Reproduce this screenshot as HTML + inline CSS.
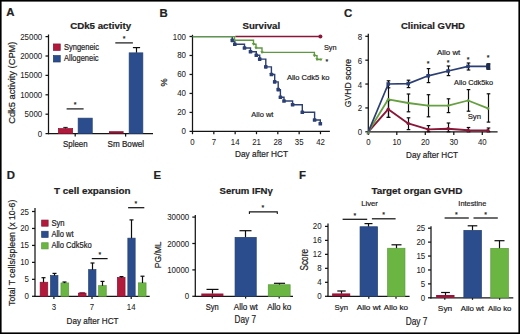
<!DOCTYPE html>
<html><head><meta charset="utf-8">
<style>
html,body{margin:0;padding:0;background:#fff;}
body{width:520px;height:334px;overflow:hidden;}
svg{display:block;font-family:"Liberation Sans",sans-serif;}
text{stroke:#222;stroke-width:0.2px;}
</style></head>
<body>
<svg width="520" height="334" viewBox="0 0 520 334">
<rect x="0" y="0" width="520" height="334" fill="#fff"/>
<text x="6.2" y="16.4" font-size="11.4" text-anchor="start" font-weight="bold" fill="#222222">A</text>
<text x="159.4" y="16.9" font-size="11.4" text-anchor="start" font-weight="bold" fill="#222222">B</text>
<text x="344.1" y="16.8" font-size="11.4" text-anchor="start" font-weight="bold" fill="#222222">C</text>
<text x="6.8" y="179.2" font-size="11.4" text-anchor="start" font-weight="bold" fill="#222222">D</text>
<text x="153.5" y="179.0" font-size="11.4" text-anchor="start" font-weight="bold" fill="#222222">E</text>
<text x="299.1" y="178.8" font-size="11.4" text-anchor="start" font-weight="bold" fill="#222222">F</text>
<text x="100.7" y="28.5" font-size="9.9" text-anchor="middle" font-weight="bold" textLength="61" lengthAdjust="spacingAndGlyphs" fill="#222222">CDk5 activity</text>
<line x1="48.5" y1="34.5" x2="48.5" y2="134.2" stroke="#141414" stroke-width="1.25"/>
<line x1="47.9" y1="133.6" x2="153" y2="133.6" stroke="#141414" stroke-width="1.25"/>
<line x1="45.5" y1="133.6" x2="48.5" y2="133.6" stroke="#141414" stroke-width="1.25"/>
<text x="42.2" y="136.6" font-size="8.3" text-anchor="end" style="stroke-width:0.05px" textLength="4.4" lengthAdjust="spacingAndGlyphs" fill="#222222">0</text>
<line x1="45.5" y1="114.2" x2="48.5" y2="114.2" stroke="#141414" stroke-width="1.25"/>
<text x="42.2" y="117.2" font-size="8.3" text-anchor="end" style="stroke-width:0.05px" textLength="17.6" lengthAdjust="spacingAndGlyphs" fill="#222222">5000</text>
<line x1="45.5" y1="94.8" x2="48.5" y2="94.8" stroke="#141414" stroke-width="1.25"/>
<text x="42.2" y="97.8" font-size="8.3" text-anchor="end" style="stroke-width:0.05px" textLength="22.0" lengthAdjust="spacingAndGlyphs" fill="#222222">10000</text>
<line x1="45.5" y1="75.4" x2="48.5" y2="75.4" stroke="#141414" stroke-width="1.25"/>
<text x="42.2" y="78.4" font-size="8.3" text-anchor="end" style="stroke-width:0.05px" textLength="22.0" lengthAdjust="spacingAndGlyphs" fill="#222222">15000</text>
<line x1="45.5" y1="56.0" x2="48.5" y2="56.0" stroke="#141414" stroke-width="1.25"/>
<text x="42.2" y="59.0" font-size="8.3" text-anchor="end" style="stroke-width:0.05px" textLength="22.0" lengthAdjust="spacingAndGlyphs" fill="#222222">20000</text>
<line x1="45.5" y1="36.6" x2="48.5" y2="36.6" stroke="#141414" stroke-width="1.25"/>
<text x="42.2" y="39.6" font-size="8.3" text-anchor="end" style="stroke-width:0.05px" textLength="22.0" lengthAdjust="spacingAndGlyphs" fill="#222222">25000</text>
<line x1="75.2" y1="133.6" x2="75.2" y2="136.6" stroke="#141414" stroke-width="1.25"/>
<line x1="125.6" y1="133.6" x2="125.6" y2="136.6" stroke="#141414" stroke-width="1.25"/>
<text transform="translate(15.2,82.7) rotate(-90)" font-size="9.6" text-anchor="middle" textLength="82.3" lengthAdjust="spacingAndGlyphs" fill="#222222">Cdk5 activity (CPM)</text>
<rect x="53.35" y="43.95" width="6.9" height="6.45" fill="#b11a3b" stroke="#8e1232" stroke-width="0.7"/>
<rect x="53.35" y="55.55" width="6.9" height="6.45" fill="#2b4d8e" stroke="#23406f" stroke-width="0.7"/>
<text x="64" y="49.7" font-size="8.3" text-anchor="start" textLength="35" lengthAdjust="spacingAndGlyphs" fill="#222222">Syngeneic</text>
<text x="64" y="60.5" font-size="8.3" text-anchor="start" textLength="34.6" lengthAdjust="spacingAndGlyphs" fill="#222222">Allogeneic</text>
<rect x="58.35" y="128.55" width="14.3" height="5.05" fill="#b11a3b" stroke="#8e1232" stroke-width="0.7"/>
<line x1="65.5" y1="127.4" x2="65.5" y2="128.4" stroke="#141414" stroke-width="1.0"/>
<line x1="63.3" y1="127.4" x2="67.7" y2="127.4" stroke="#141414" stroke-width="1.0"/>
<rect x="78.15" y="118.15" width="14.1" height="15.45" fill="#2b4d8e" stroke="#23406f" stroke-width="0.7"/>
<rect x="109.0" y="131.2" width="14.6" height="2.4" fill="#8e1634"/>
<rect x="129.15" y="52.85" width="13.7" height="80.75" fill="#2b4d8e" stroke="#23406f" stroke-width="0.7"/>
<line x1="136.5" y1="47.6" x2="136.5" y2="52.6" stroke="#0c0c0c" stroke-width="1.2"/>
<line x1="132.9" y1="47.6" x2="140.1" y2="47.6" stroke="#0c0c0c" stroke-width="1.2"/>
<line x1="66.6" y1="108.9" x2="83.6" y2="108.9" stroke="#141414" stroke-width="1.2"/>
<text x="75.1" y="107.0" font-size="7" text-anchor="middle" fill="#222222">*</text>
<line x1="115.3" y1="42.9" x2="132.9" y2="42.9" stroke="#141414" stroke-width="1.2"/>
<text x="124.0" y="41.0" font-size="7" text-anchor="middle" fill="#222222">*</text>
<text x="75.3" y="146.7" font-size="8.3" text-anchor="middle" textLength="24.6" lengthAdjust="spacingAndGlyphs" fill="#222222">Spleen</text>
<text x="125.8" y="147.0" font-size="8.2" text-anchor="middle" textLength="36.5" lengthAdjust="spacingAndGlyphs" fill="#222222">Sm Bowel</text>
<text x="261.3" y="28.7" font-size="9.9" text-anchor="middle" font-weight="bold" textLength="37.7" lengthAdjust="spacingAndGlyphs" fill="#222222">Survival</text>
<line x1="192.5" y1="34.8" x2="192.5" y2="132.0" stroke="#141414" stroke-width="1.25"/>
<line x1="191.9" y1="131.4" x2="329.9" y2="131.4" stroke="#141414" stroke-width="1.25"/>
<line x1="189.5" y1="131.4" x2="192.5" y2="131.4" stroke="#141414" stroke-width="1.25"/>
<text x="186.0" y="134.4" font-size="8.3" text-anchor="end" style="stroke-width:0.05px" textLength="4.4" lengthAdjust="spacingAndGlyphs" fill="#222222">0</text>
<line x1="189.5" y1="112.42" x2="192.5" y2="112.42" stroke="#141414" stroke-width="1.25"/>
<text x="186.0" y="115.42" font-size="8.3" text-anchor="end" style="stroke-width:0.05px" textLength="8.8" lengthAdjust="spacingAndGlyphs" fill="#222222">20</text>
<line x1="189.5" y1="93.44" x2="192.5" y2="93.44" stroke="#141414" stroke-width="1.25"/>
<text x="186.0" y="96.44" font-size="8.3" text-anchor="end" style="stroke-width:0.05px" textLength="8.8" lengthAdjust="spacingAndGlyphs" fill="#222222">40</text>
<line x1="189.5" y1="74.46" x2="192.5" y2="74.46" stroke="#141414" stroke-width="1.25"/>
<text x="186.0" y="77.46" font-size="8.3" text-anchor="end" style="stroke-width:0.05px" textLength="8.8" lengthAdjust="spacingAndGlyphs" fill="#222222">60</text>
<line x1="189.5" y1="55.48" x2="192.5" y2="55.48" stroke="#141414" stroke-width="1.25"/>
<text x="186.0" y="58.48" font-size="8.3" text-anchor="end" style="stroke-width:0.05px" textLength="8.8" lengthAdjust="spacingAndGlyphs" fill="#222222">80</text>
<line x1="189.5" y1="36.5" x2="192.5" y2="36.5" stroke="#141414" stroke-width="1.25"/>
<text x="186.0" y="39.5" font-size="8.3" text-anchor="end" style="stroke-width:0.05px" textLength="13.2" lengthAdjust="spacingAndGlyphs" fill="#222222">100</text>
<line x1="192.5" y1="131.4" x2="192.5" y2="134.2" stroke="#141414" stroke-width="1.25"/>
<text x="192.5" y="144.6" font-size="8.3" text-anchor="middle" style="stroke-width:0.05px" textLength="4.35" lengthAdjust="spacingAndGlyphs" fill="#222222">0</text>
<line x1="213.83" y1="131.4" x2="213.83" y2="134.2" stroke="#141414" stroke-width="1.25"/>
<text x="213.83" y="144.6" font-size="8.3" text-anchor="middle" style="stroke-width:0.05px" textLength="4.35" lengthAdjust="spacingAndGlyphs" fill="#222222">7</text>
<line x1="235.16" y1="131.4" x2="235.16" y2="134.2" stroke="#141414" stroke-width="1.25"/>
<text x="235.16" y="144.6" font-size="8.3" text-anchor="middle" style="stroke-width:0.05px" textLength="8.7" lengthAdjust="spacingAndGlyphs" fill="#222222">14</text>
<line x1="256.49" y1="131.4" x2="256.49" y2="134.2" stroke="#141414" stroke-width="1.25"/>
<text x="256.49" y="144.6" font-size="8.3" text-anchor="middle" style="stroke-width:0.05px" textLength="8.7" lengthAdjust="spacingAndGlyphs" fill="#222222">21</text>
<line x1="277.82" y1="131.4" x2="277.82" y2="134.2" stroke="#141414" stroke-width="1.25"/>
<text x="277.82" y="144.6" font-size="8.3" text-anchor="middle" style="stroke-width:0.05px" textLength="8.7" lengthAdjust="spacingAndGlyphs" fill="#222222">28</text>
<line x1="299.15" y1="131.4" x2="299.15" y2="134.2" stroke="#141414" stroke-width="1.25"/>
<text x="299.15" y="144.6" font-size="8.3" text-anchor="middle" style="stroke-width:0.05px" textLength="8.7" lengthAdjust="spacingAndGlyphs" fill="#222222">35</text>
<line x1="320.48" y1="131.4" x2="320.48" y2="134.2" stroke="#141414" stroke-width="1.25"/>
<text x="320.48" y="144.6" font-size="8.3" text-anchor="middle" style="stroke-width:0.05px" textLength="8.7" lengthAdjust="spacingAndGlyphs" fill="#222222">42</text>
<text x="261.5" y="157.3" font-size="9.3" text-anchor="middle" textLength="53" lengthAdjust="spacingAndGlyphs" fill="#222222">Day after HCT</text>
<text transform="translate(167.0,82.4) rotate(-90)" font-size="9.2" text-anchor="middle" fill="#222222">%</text>
<path d="M192.5,36.6 H232.3 V40.4 H234.8 V44.2 H244.5 V48.0 H250.5 V51.7 H256.3 V55.3 H259.7 V59.1 H265.8 V66.9 H271.4 V74.5 H274.7 V81.9 H278.2 V89.6 H280.4 V97.2 H284.0 V101.0 H292.6 V104.8 H302.3 V112.3 H314.6 V120.0 H320.3 V123.8" fill="none" stroke="#2b3f73" stroke-width="1.4"/>
<rect x="230.5" y="38.6" width="3.6" height="3.6" rx="0.6" fill="#2b3f73"/>
<rect x="233.0" y="42.400000000000006" width="3.6" height="3.6" rx="0.6" fill="#2b3f73"/>
<rect x="242.7" y="46.2" width="3.6" height="3.6" rx="0.6" fill="#2b3f73"/>
<rect x="248.7" y="49.900000000000006" width="3.6" height="3.6" rx="0.6" fill="#2b3f73"/>
<rect x="254.5" y="53.5" width="3.6" height="3.6" rx="0.6" fill="#2b3f73"/>
<rect x="257.9" y="57.300000000000004" width="3.6" height="3.6" rx="0.6" fill="#2b3f73"/>
<rect x="264.0" y="65.10000000000001" width="3.6" height="3.6" rx="0.6" fill="#2b3f73"/>
<rect x="269.59999999999997" y="72.7" width="3.6" height="3.6" rx="0.6" fill="#2b3f73"/>
<rect x="272.9" y="80.10000000000001" width="3.6" height="3.6" rx="0.6" fill="#2b3f73"/>
<rect x="276.4" y="87.8" width="3.6" height="3.6" rx="0.6" fill="#2b3f73"/>
<rect x="278.59999999999997" y="95.4" width="3.6" height="3.6" rx="0.6" fill="#2b3f73"/>
<rect x="282.2" y="99.2" width="3.6" height="3.6" rx="0.6" fill="#2b3f73"/>
<rect x="290.8" y="103.0" width="3.6" height="3.6" rx="0.6" fill="#2b3f73"/>
<rect x="300.5" y="110.5" width="3.6" height="3.6" rx="0.6" fill="#2b3f73"/>
<rect x="312.8" y="118.2" width="3.6" height="3.6" rx="0.6" fill="#2b3f73"/>
<rect x="318.5" y="122.0" width="3.6" height="3.6" rx="0.6" fill="#2b3f73"/>
<path d="M235.3,36.6 H320.4" fill="none" stroke="#8a1638" stroke-width="1.5"/>
<circle cx="320.4" cy="36.6" r="2.0" fill="#8a1638"/>
<path d="M192.5,36.6 H234.5 V40.3 H253.5 V44.2 H256.0 V48.0 H262.0 V52.4 H314.4 V55.6 H317.0 V59.5 H321.0" fill="none" stroke="#5e9842" stroke-width="1.4"/>
<path d="M251.8,43.0 L255.2,43.0 L253.5,45.800000000000004 Z" fill="#5e9a3c"/>
<path d="M254.3,46.8 L257.7,46.8 L256.0,49.6 Z" fill="#5e9a3c"/>
<path d="M260.3,51.199999999999996 L263.7,51.199999999999996 L262.0,54.0 Z" fill="#5e9a3c"/>
<path d="M312.7,54.4 L316.09999999999997,54.4 L314.4,57.2 Z" fill="#5e9a3c"/>
<path d="M315.3,58.3 L318.7,58.3 L317.0,61.1 Z" fill="#5e9a3c"/>
<path d="M319.4,58.6 L322.6,58.6 L321,61.2 Z" fill="#5e9a3c"/>
<text x="323.9" y="49.8" font-size="7.8" text-anchor="start" textLength="12.6" lengthAdjust="spacingAndGlyphs" fill="#222222">Syn</text>
<text x="326.9" y="63.7" font-size="7" text-anchor="middle" fill="#222222">*</text>
<text x="286.9" y="79.8" font-size="7.8" text-anchor="start" textLength="42.5" lengthAdjust="spacingAndGlyphs" fill="#222222">Allo Cdk5 ko</text>
<text x="251.3" y="116.9" font-size="7.8" text-anchor="start" textLength="22.1" lengthAdjust="spacingAndGlyphs" fill="#222222">Allo wt</text>
<text x="433.0" y="28.5" font-size="9.9" text-anchor="middle" font-weight="bold" textLength="64" lengthAdjust="spacingAndGlyphs" fill="#222222">Clinical GVHD</text>
<line x1="368.3" y1="33.8" x2="368.3" y2="132.4" stroke="#141414" stroke-width="1.25"/>
<line x1="367.7" y1="131.8" x2="497.6" y2="131.8" stroke="#141414" stroke-width="1.25"/>
<line x1="365.3" y1="131.8" x2="368.3" y2="131.8" stroke="#141414" stroke-width="1.25"/>
<text x="362.2" y="135.3" font-size="8.3" text-anchor="end" style="stroke-width:0.05px" textLength="4.4" lengthAdjust="spacingAndGlyphs" fill="#222222">0</text>
<line x1="365.3" y1="107.93" x2="368.3" y2="107.93" stroke="#141414" stroke-width="1.25"/>
<text x="362.2" y="111.43" font-size="8.3" text-anchor="end" style="stroke-width:0.05px" textLength="4.4" lengthAdjust="spacingAndGlyphs" fill="#222222">2</text>
<line x1="365.3" y1="84.05" x2="368.3" y2="84.05" stroke="#141414" stroke-width="1.25"/>
<text x="362.2" y="87.55" font-size="8.3" text-anchor="end" style="stroke-width:0.05px" textLength="4.4" lengthAdjust="spacingAndGlyphs" fill="#222222">4</text>
<line x1="365.3" y1="60.18" x2="368.3" y2="60.18" stroke="#141414" stroke-width="1.25"/>
<text x="362.2" y="63.68" font-size="8.3" text-anchor="end" style="stroke-width:0.05px" textLength="4.4" lengthAdjust="spacingAndGlyphs" fill="#222222">6</text>
<line x1="365.3" y1="36.3" x2="368.3" y2="36.3" stroke="#141414" stroke-width="1.25"/>
<text x="362.2" y="39.8" font-size="8.3" text-anchor="end" style="stroke-width:0.05px" textLength="4.4" lengthAdjust="spacingAndGlyphs" fill="#222222">8</text>
<line x1="368.3" y1="131.8" x2="368.3" y2="135.0" stroke="#141414" stroke-width="1.25"/>
<text x="368.3" y="144.6" font-size="8.3" text-anchor="middle" style="stroke-width:0.05px" textLength="4.35" lengthAdjust="spacingAndGlyphs" fill="#222222">0</text>
<line x1="396.8" y1="131.8" x2="396.8" y2="135.0" stroke="#141414" stroke-width="1.25"/>
<text x="396.8" y="144.6" font-size="8.3" text-anchor="middle" style="stroke-width:0.05px" textLength="8.7" lengthAdjust="spacingAndGlyphs" fill="#222222">10</text>
<line x1="425.3" y1="131.8" x2="425.3" y2="135.0" stroke="#141414" stroke-width="1.25"/>
<text x="425.3" y="144.6" font-size="8.3" text-anchor="middle" style="stroke-width:0.05px" textLength="8.7" lengthAdjust="spacingAndGlyphs" fill="#222222">20</text>
<line x1="453.8" y1="131.8" x2="453.8" y2="135.0" stroke="#141414" stroke-width="1.25"/>
<text x="453.8" y="144.6" font-size="8.3" text-anchor="middle" style="stroke-width:0.05px" textLength="8.7" lengthAdjust="spacingAndGlyphs" fill="#222222">30</text>
<line x1="482.3" y1="131.8" x2="482.3" y2="135.0" stroke="#141414" stroke-width="1.25"/>
<text x="482.3" y="144.6" font-size="8.3" text-anchor="middle" style="stroke-width:0.05px" textLength="8.7" lengthAdjust="spacingAndGlyphs" fill="#222222">40</text>
<text x="432.0" y="157.5" font-size="9.3" text-anchor="middle" textLength="52" lengthAdjust="spacingAndGlyphs" fill="#222222">Day after HCT</text>
<text transform="translate(350.8,83.0) rotate(-90)" font-size="9.6" text-anchor="middle" textLength="48.3" lengthAdjust="spacingAndGlyphs" fill="#222222">GVHD score</text>
<line x1="388.5" y1="100.6" x2="388.5" y2="117.4" stroke="#0c0c0c" stroke-width="1.2"/>
<line x1="386.7" y1="100.6" x2="390.3" y2="100.6" stroke="#0c0c0c" stroke-width="1.2"/>
<line x1="386.7" y1="117.4" x2="390.3" y2="117.4" stroke="#0c0c0c" stroke-width="1.2"/>
<line x1="388.5" y1="80.8" x2="388.5" y2="87.8" stroke="#0c0c0c" stroke-width="1.2"/>
<line x1="386.7" y1="80.8" x2="390.3" y2="80.8" stroke="#0c0c0c" stroke-width="1.2"/>
<line x1="386.7" y1="87.8" x2="390.3" y2="87.8" stroke="#0c0c0c" stroke-width="1.2"/>
<line x1="408.5" y1="94.0" x2="408.5" y2="111.8" stroke="#0c0c0c" stroke-width="1.2"/>
<line x1="406.7" y1="94.0" x2="410.3" y2="94.0" stroke="#0c0c0c" stroke-width="1.2"/>
<line x1="406.7" y1="111.8" x2="410.3" y2="111.8" stroke="#0c0c0c" stroke-width="1.2"/>
<line x1="408.5" y1="117.8" x2="408.5" y2="129.6" stroke="#0c0c0c" stroke-width="1.2"/>
<line x1="406.7" y1="117.8" x2="410.3" y2="117.8" stroke="#0c0c0c" stroke-width="1.2"/>
<line x1="406.7" y1="129.6" x2="410.3" y2="129.6" stroke="#0c0c0c" stroke-width="1.2"/>
<line x1="408.5" y1="80.2" x2="408.5" y2="87.6" stroke="#0c0c0c" stroke-width="1.2"/>
<line x1="406.7" y1="80.2" x2="410.3" y2="80.2" stroke="#0c0c0c" stroke-width="1.2"/>
<line x1="406.7" y1="87.6" x2="410.3" y2="87.6" stroke="#0c0c0c" stroke-width="1.2"/>
<line x1="428.5" y1="94.7" x2="428.5" y2="116.8" stroke="#0c0c0c" stroke-width="1.2"/>
<line x1="426.7" y1="94.7" x2="430.3" y2="94.7" stroke="#0c0c0c" stroke-width="1.2"/>
<line x1="426.7" y1="116.8" x2="430.3" y2="116.8" stroke="#0c0c0c" stroke-width="1.2"/>
<line x1="428.5" y1="125.6" x2="428.5" y2="131.8" stroke="#0c0c0c" stroke-width="1.2"/>
<line x1="426.7" y1="125.6" x2="430.3" y2="125.6" stroke="#0c0c0c" stroke-width="1.2"/>
<line x1="426.7" y1="131.8" x2="430.3" y2="131.8" stroke="#0c0c0c" stroke-width="1.2"/>
<line x1="428.5" y1="68.6" x2="428.5" y2="82.6" stroke="#0c0c0c" stroke-width="1.2"/>
<line x1="426.7" y1="68.6" x2="430.3" y2="68.6" stroke="#0c0c0c" stroke-width="1.2"/>
<line x1="426.7" y1="82.6" x2="430.3" y2="82.6" stroke="#0c0c0c" stroke-width="1.2"/>
<line x1="448.5" y1="98.8" x2="448.5" y2="112.6" stroke="#0c0c0c" stroke-width="1.2"/>
<line x1="446.7" y1="98.8" x2="450.3" y2="98.8" stroke="#0c0c0c" stroke-width="1.2"/>
<line x1="446.7" y1="112.6" x2="450.3" y2="112.6" stroke="#0c0c0c" stroke-width="1.2"/>
<line x1="448.5" y1="123.0" x2="448.5" y2="131.8" stroke="#0c0c0c" stroke-width="1.2"/>
<line x1="446.7" y1="123.0" x2="450.3" y2="123.0" stroke="#0c0c0c" stroke-width="1.2"/>
<line x1="446.7" y1="131.8" x2="450.3" y2="131.8" stroke="#0c0c0c" stroke-width="1.2"/>
<line x1="448.5" y1="66.0" x2="448.5" y2="75.6" stroke="#0c0c0c" stroke-width="1.2"/>
<line x1="446.7" y1="66.0" x2="450.3" y2="66.0" stroke="#0c0c0c" stroke-width="1.2"/>
<line x1="446.7" y1="75.6" x2="450.3" y2="75.6" stroke="#0c0c0c" stroke-width="1.2"/>
<line x1="468.5" y1="89.6" x2="468.5" y2="111.2" stroke="#0c0c0c" stroke-width="1.2"/>
<line x1="466.7" y1="89.6" x2="470.3" y2="89.6" stroke="#0c0c0c" stroke-width="1.2"/>
<line x1="466.7" y1="111.2" x2="470.3" y2="111.2" stroke="#0c0c0c" stroke-width="1.2"/>
<line x1="468.5" y1="127.5" x2="468.5" y2="131.8" stroke="#0c0c0c" stroke-width="1.2"/>
<line x1="466.7" y1="127.5" x2="470.3" y2="127.5" stroke="#0c0c0c" stroke-width="1.2"/>
<line x1="466.7" y1="131.8" x2="470.3" y2="131.8" stroke="#0c0c0c" stroke-width="1.2"/>
<line x1="468.5" y1="63.0" x2="468.5" y2="70.0" stroke="#0c0c0c" stroke-width="1.2"/>
<line x1="466.7" y1="63.0" x2="470.3" y2="63.0" stroke="#0c0c0c" stroke-width="1.2"/>
<line x1="466.7" y1="70.0" x2="470.3" y2="70.0" stroke="#0c0c0c" stroke-width="1.2"/>
<line x1="488.5" y1="93.8" x2="488.5" y2="122.1" stroke="#0c0c0c" stroke-width="1.2"/>
<line x1="486.7" y1="93.8" x2="490.3" y2="93.8" stroke="#0c0c0c" stroke-width="1.2"/>
<line x1="486.7" y1="122.1" x2="490.3" y2="122.1" stroke="#0c0c0c" stroke-width="1.2"/>
<line x1="488.5" y1="128.0" x2="488.5" y2="131.8" stroke="#0c0c0c" stroke-width="1.2"/>
<line x1="486.7" y1="128.0" x2="490.3" y2="128.0" stroke="#0c0c0c" stroke-width="1.2"/>
<line x1="486.7" y1="131.8" x2="490.3" y2="131.8" stroke="#0c0c0c" stroke-width="1.2"/>
<line x1="488.5" y1="63.8" x2="488.5" y2="69.2" stroke="#0c0c0c" stroke-width="1.2"/>
<line x1="486.7" y1="63.8" x2="490.3" y2="63.8" stroke="#0c0c0c" stroke-width="1.2"/>
<line x1="486.7" y1="69.2" x2="490.3" y2="69.2" stroke="#0c0c0c" stroke-width="1.2"/>
<line x1="388.5" y1="87.8" x2="388.5" y2="117.4" stroke="#0c0c0c" stroke-width="1.2"/>
<line x1="386.7" y1="117.4" x2="390.3" y2="117.4" stroke="#0c0c0c" stroke-width="1.2"/>
<polyline points="368.3,131.8 388.25,109.2 408.2,123.4 428.15,129.4 448.1,128.8 468.05,130.3 488.0,130.4" fill="none" stroke="#8a1638" stroke-width="1.9" stroke-linejoin="round"/>
<polyline points="368.3,131.8 388.25,99.3 408.2,103.0 428.15,105.7 448.1,105.7 468.05,100.5 488.0,108.4" fill="none" stroke="#66a040" stroke-width="1.8" stroke-linejoin="round"/>
<polyline points="368.3,131.8 388.25,84.0 408.2,83.6 428.15,75.8 448.1,71.0 468.05,66.4 488.0,66.4" fill="none" stroke="#2b3f73" stroke-width="1.7" stroke-linejoin="round"/>
<path d="M366.3,134.2 L370.1,134.2 L368.2,130.6 Z" fill="#5f7f55"/>
<circle cx="388.25" cy="109.2" r="1.7" fill="#8a1638"/>
<circle cx="408.2" cy="123.4" r="1.7" fill="#8a1638"/>
<circle cx="428.15" cy="129.4" r="1.7" fill="#8a1638"/>
<circle cx="448.1" cy="128.8" r="1.7" fill="#8a1638"/>
<circle cx="468.05" cy="130.3" r="1.7" fill="#8a1638"/>
<circle cx="488.0" cy="130.4" r="1.7" fill="#8a1638"/>
<rect x="386.45" y="82.2" width="3.6" height="3.6" fill="#2b3f73"/>
<rect x="406.4" y="81.8" width="3.6" height="3.6" fill="#2b3f73"/>
<rect x="426.34999999999997" y="74.0" width="3.6" height="3.6" fill="#2b3f73"/>
<rect x="446.3" y="69.2" width="3.6" height="3.6" fill="#2b3f73"/>
<rect x="466.25" y="64.60000000000001" width="3.6" height="3.6" fill="#2b3f73"/>
<rect x="486.2" y="64.60000000000001" width="3.6" height="3.6" fill="#2b3f73"/>
<circle cx="388.25" cy="99.3" r="1.3" fill="#66a040"/>
<circle cx="408.2" cy="103.0" r="1.3" fill="#66a040"/>
<circle cx="428.15" cy="105.7" r="1.3" fill="#66a040"/>
<circle cx="448.1" cy="105.7" r="1.3" fill="#66a040"/>
<circle cx="468.05" cy="100.5" r="1.3" fill="#66a040"/>
<circle cx="488.0" cy="108.4" r="1.3" fill="#66a040"/>
<rect x="486.2" y="63.6" width="4.1" height="6.0" fill="#1e2c4e"/>
<text x="428.15" y="66.1" font-size="7" text-anchor="middle" fill="#222222">*</text>
<text x="448.1" y="64.6" font-size="7" text-anchor="middle" fill="#222222">*</text>
<text x="468.05" y="62.0" font-size="7" text-anchor="middle" fill="#222222">*</text>
<text x="488.0" y="59.7" font-size="7" text-anchor="middle" fill="#222222">*</text>
<text x="437.0" y="55.1" font-size="7.8" text-anchor="start" textLength="23.3" lengthAdjust="spacingAndGlyphs" fill="#222222">Allo wt</text>
<text x="454.0" y="84.6" font-size="7.8" text-anchor="start" textLength="39.1" lengthAdjust="spacingAndGlyphs" fill="#222222">Allo Cdk5ko</text>
<text x="467.7" y="119.4" font-size="7.8" text-anchor="start" textLength="13.3" lengthAdjust="spacingAndGlyphs" fill="#222222">Syn</text>
<text x="92.3" y="193.5" font-size="9.9" text-anchor="middle" font-weight="bold" textLength="76.4" lengthAdjust="spacingAndGlyphs" fill="#222222">T cell expansion</text>
<line x1="35.0" y1="208.0" x2="35.0" y2="296.90000000000003" stroke="#141414" stroke-width="1.25"/>
<line x1="34.4" y1="296.3" x2="149.7" y2="296.3" stroke="#141414" stroke-width="1.25"/>
<line x1="32.0" y1="296.3" x2="35.0" y2="296.3" stroke="#141414" stroke-width="1.25"/>
<text x="29.0" y="299.3" font-size="8.3" text-anchor="end" style="stroke-width:0.05px" textLength="4.4" lengthAdjust="spacingAndGlyphs" fill="#222222">0</text>
<line x1="32.0" y1="279.34" x2="35.0" y2="279.34" stroke="#141414" stroke-width="1.25"/>
<text x="29.0" y="282.34" font-size="8.3" text-anchor="end" style="stroke-width:0.05px" textLength="4.4" lengthAdjust="spacingAndGlyphs" fill="#222222">5</text>
<line x1="32.0" y1="262.38" x2="35.0" y2="262.38" stroke="#141414" stroke-width="1.25"/>
<text x="29.0" y="265.38" font-size="8.3" text-anchor="end" style="stroke-width:0.05px" textLength="8.8" lengthAdjust="spacingAndGlyphs" fill="#222222">10</text>
<line x1="32.0" y1="245.42" x2="35.0" y2="245.42" stroke="#141414" stroke-width="1.25"/>
<text x="29.0" y="248.42" font-size="8.3" text-anchor="end" style="stroke-width:0.05px" textLength="8.8" lengthAdjust="spacingAndGlyphs" fill="#222222">15</text>
<line x1="32.0" y1="228.46" x2="35.0" y2="228.46" stroke="#141414" stroke-width="1.25"/>
<text x="29.0" y="231.46" font-size="8.3" text-anchor="end" style="stroke-width:0.05px" textLength="8.8" lengthAdjust="spacingAndGlyphs" fill="#222222">20</text>
<line x1="32.0" y1="211.5" x2="35.0" y2="211.5" stroke="#141414" stroke-width="1.25"/>
<text x="29.0" y="214.5" font-size="8.3" text-anchor="end" style="stroke-width:0.05px" textLength="8.8" lengthAdjust="spacingAndGlyphs" fill="#222222">25</text>
<line x1="53.9" y1="296.3" x2="53.9" y2="299.0" stroke="#141414" stroke-width="1.25"/>
<text x="53.9" y="310.0" font-size="8.3" text-anchor="middle" style="stroke-width:0.05px" textLength="4.35" lengthAdjust="spacingAndGlyphs" fill="#222222">3</text>
<line x1="92.0" y1="296.3" x2="92.0" y2="299.0" stroke="#141414" stroke-width="1.25"/>
<text x="92.0" y="310.0" font-size="8.3" text-anchor="middle" style="stroke-width:0.05px" textLength="4.35" lengthAdjust="spacingAndGlyphs" fill="#222222">7</text>
<line x1="131.2" y1="296.3" x2="131.2" y2="299.0" stroke="#141414" stroke-width="1.25"/>
<text x="131.2" y="310.0" font-size="8.3" text-anchor="middle" style="stroke-width:0.05px" textLength="8.7" lengthAdjust="spacingAndGlyphs" fill="#222222">14</text>
<text x="92.5" y="323.5" font-size="9.3" text-anchor="middle" textLength="52" lengthAdjust="spacingAndGlyphs" fill="#222222">Day after HCT</text>
<text transform="translate(15.3,252.8) rotate(-90)" font-size="9.6" text-anchor="middle" textLength="106.3" lengthAdjust="spacingAndGlyphs" fill="#222222">Total T cells/spleen (x 10-6)</text>
<rect x="41.65" y="220.05" width="6.5" height="6.15" fill="#b11a3b" stroke="#8e1232" stroke-width="0.7"/>
<rect x="41.65" y="231.25" width="6.5" height="6.15" fill="#2b4d8e" stroke="#23406f" stroke-width="0.7"/>
<rect x="41.65" y="242.75" width="6.5" height="6.15" fill="#6bb543" stroke="#5a9a3a" stroke-width="0.7"/>
<text x="51.4" y="225.6" font-size="8.6" text-anchor="start" textLength="13.2" lengthAdjust="spacingAndGlyphs" fill="#222222">Syn</text>
<text x="51.4" y="236.7" font-size="8.6" text-anchor="start" textLength="22.2" lengthAdjust="spacingAndGlyphs" fill="#222222">Allo wt</text>
<text x="51.4" y="247.9" font-size="8.6" text-anchor="start" textLength="40.4" lengthAdjust="spacingAndGlyphs" fill="#222222">Allo Cdk5ko</text>
<rect x="40.15" y="282.25" width="7.6" height="14.05" fill="#b11a3b" stroke="#8e1232" stroke-width="0.7"/>
<line x1="43.5" y1="277.7" x2="43.5" y2="282.4" stroke="#0c0c0c" stroke-width="1.2"/>
<line x1="41.5" y1="277.7" x2="45.5" y2="277.7" stroke="#0c0c0c" stroke-width="1.2"/>
<rect x="50.55" y="275.55" width="7.4" height="20.75" fill="#2b4d8e" stroke="#23406f" stroke-width="0.7"/>
<line x1="54.5" y1="273.4" x2="54.5" y2="275.7" stroke="#0c0c0c" stroke-width="1.2"/>
<line x1="52.5" y1="273.4" x2="56.5" y2="273.4" stroke="#0c0c0c" stroke-width="1.2"/>
<rect x="60.95" y="282.95" width="7.7" height="13.35" fill="#6bb543" stroke="#5a9a3a" stroke-width="0.7"/>
<line x1="64.5" y1="282.0" x2="64.5" y2="283.1" stroke="#0c0c0c" stroke-width="1.2"/>
<line x1="62.5" y1="282.0" x2="66.5" y2="282.0" stroke="#0c0c0c" stroke-width="1.2"/>
<rect x="78.35" y="293.15" width="7.7" height="3.15" fill="#b11a3b" stroke="#8e1232" stroke-width="0.7"/>
<rect x="79.2" y="292.2" width="6.0" height="1.6" rx="0.8" fill="#7a1030"/>
<rect x="88.65" y="269.65" width="7.3" height="26.65" fill="#2b4d8e" stroke="#23406f" stroke-width="0.7"/>
<line x1="92.5" y1="263.0" x2="92.5" y2="269.8" stroke="#0c0c0c" stroke-width="1.2"/>
<line x1="90.5" y1="263.0" x2="94.5" y2="263.0" stroke="#0c0c0c" stroke-width="1.2"/>
<rect x="98.65" y="285.65" width="7.6" height="10.65" fill="#6bb543" stroke="#5a9a3a" stroke-width="0.7"/>
<line x1="102.5" y1="281.4" x2="102.5" y2="285.8" stroke="#0c0c0c" stroke-width="1.2"/>
<line x1="100.5" y1="281.4" x2="104.5" y2="281.4" stroke="#0c0c0c" stroke-width="1.2"/>
<rect x="117.35" y="277.45" width="7.7" height="18.85" fill="#b11a3b" stroke="#8e1232" stroke-width="0.7"/>
<line x1="121.5" y1="276.6" x2="121.5" y2="277.6" stroke="#0c0c0c" stroke-width="1.2"/>
<line x1="119.5" y1="276.6" x2="123.5" y2="276.6" stroke="#0c0c0c" stroke-width="1.2"/>
<rect x="127.85" y="238.15" width="7.3" height="58.15" fill="#2b4d8e" stroke="#23406f" stroke-width="0.7"/>
<line x1="131.5" y1="219.9" x2="131.5" y2="238.3" stroke="#0c0c0c" stroke-width="1.2"/>
<line x1="129.5" y1="219.9" x2="133.5" y2="219.9" stroke="#0c0c0c" stroke-width="1.2"/>
<rect x="138.35" y="282.85" width="7.7" height="13.45" fill="#6bb543" stroke="#5a9a3a" stroke-width="0.7"/>
<line x1="142.5" y1="276.2" x2="142.5" y2="283.0" stroke="#0c0c0c" stroke-width="1.2"/>
<line x1="140.5" y1="276.2" x2="144.5" y2="276.2" stroke="#0c0c0c" stroke-width="1.2"/>
<line x1="91.8" y1="258.6" x2="107.6" y2="258.6" stroke="#141414" stroke-width="1.25"/>
<text x="99.8" y="257.4" font-size="7" text-anchor="middle" fill="#222222">*</text>
<line x1="128.1" y1="207.7" x2="144.3" y2="207.7" stroke="#141414" stroke-width="1.25"/>
<text x="135.9" y="206.3" font-size="7" text-anchor="middle" fill="#222222">*</text>
<text x="246.2" y="193.8" font-size="9.9" text-anchor="middle" font-weight="bold" textLength="53.3" lengthAdjust="spacingAndGlyphs" fill="#222222">Serum IFN&#947;</text>
<line x1="195.3" y1="215.0" x2="195.3" y2="296.90000000000003" stroke="#141414" stroke-width="1.25"/>
<line x1="194.70000000000002" y1="296.3" x2="293.0" y2="296.3" stroke="#141414" stroke-width="1.25"/>
<line x1="192.3" y1="296.3" x2="195.3" y2="296.3" stroke="#141414" stroke-width="1.25"/>
<text x="189.2" y="299.3" font-size="8.3" text-anchor="end" style="stroke-width:0.05px" textLength="4.4" lengthAdjust="spacingAndGlyphs" fill="#222222">0</text>
<line x1="192.3" y1="269.9" x2="195.3" y2="269.9" stroke="#141414" stroke-width="1.25"/>
<text x="189.2" y="272.9" font-size="8.3" text-anchor="end" style="stroke-width:0.05px" textLength="22.0" lengthAdjust="spacingAndGlyphs" fill="#222222">10000</text>
<line x1="192.3" y1="243.5" x2="195.3" y2="243.5" stroke="#141414" stroke-width="1.25"/>
<text x="189.2" y="246.5" font-size="8.3" text-anchor="end" style="stroke-width:0.05px" textLength="22.0" lengthAdjust="spacingAndGlyphs" fill="#222222">20000</text>
<line x1="192.3" y1="217.1" x2="195.3" y2="217.1" stroke="#141414" stroke-width="1.25"/>
<text x="189.2" y="220.1" font-size="8.3" text-anchor="end" style="stroke-width:0.05px" textLength="22.0" lengthAdjust="spacingAndGlyphs" fill="#222222">30000</text>
<line x1="212.3" y1="296.3" x2="212.3" y2="298.6" stroke="#141414" stroke-width="1.25"/>
<line x1="245.6" y1="296.3" x2="245.6" y2="298.6" stroke="#141414" stroke-width="1.25"/>
<line x1="279.2" y1="296.3" x2="279.2" y2="298.6" stroke="#141414" stroke-width="1.25"/>
<text x="212.3" y="310.1" font-size="8.4" text-anchor="middle" textLength="13.0" lengthAdjust="spacingAndGlyphs" fill="#222222">Syn</text>
<text x="245.8" y="310.1" font-size="8.4" text-anchor="middle" textLength="23.9" lengthAdjust="spacingAndGlyphs" fill="#222222">Allo wt</text>
<text x="279.2" y="310.1" font-size="8.4" text-anchor="middle" textLength="24.1" lengthAdjust="spacingAndGlyphs" fill="#222222">Allo ko</text>
<text x="245.3" y="323.1" font-size="10.3" text-anchor="middle" textLength="21.4" lengthAdjust="spacingAndGlyphs" fill="#222222">Day 7</text>
<text transform="translate(161.0,254.8) rotate(-90)" font-size="9.6" text-anchor="middle" textLength="26.8" lengthAdjust="spacingAndGlyphs" fill="#222222">PG/ML</text>
<rect x="201.3" y="293.5" width="22.1" height="2.8" fill="#9a1538"/>
<line x1="212.5" y1="289.4" x2="212.5" y2="293.6" stroke="#0c0c0c" stroke-width="1.2"/>
<line x1="206.5" y1="289.4" x2="218.5" y2="289.4" stroke="#0c0c0c" stroke-width="1.2"/>
<rect x="235.05" y="237.35" width="21.2" height="58.95" fill="#2b4d8e" stroke="#23406f" stroke-width="0.7"/>
<line x1="245.5" y1="230.7" x2="245.5" y2="237.2" stroke="#0c0c0c" stroke-width="1.2"/>
<line x1="239.5" y1="230.7" x2="251.5" y2="230.7" stroke="#0c0c0c" stroke-width="1.2"/>
<rect x="268.25" y="284.75" width="21.9" height="11.55" fill="#6bb543" stroke="#5a9a3a" stroke-width="0.7"/>
<line x1="279.5" y1="283.3" x2="279.5" y2="284.6" stroke="#0c0c0c" stroke-width="1.2"/>
<line x1="273.9" y1="283.3" x2="285.1" y2="283.3" stroke="#0c0c0c" stroke-width="1.2"/>
<path d="M249.4,214.1 V211.9 H277.3 V214.1" fill="none" stroke="#141414" stroke-width="1.1"/>
<text x="262.8" y="210.2" font-size="7" text-anchor="middle" fill="#222222">*</text>
<text x="416.9" y="194.0" font-size="9.9" text-anchor="middle" font-weight="bold" textLength="91" lengthAdjust="spacingAndGlyphs" fill="#222222">Target organ GVHD</text>
<text x="369.5" y="206.0" font-size="7.8" text-anchor="middle" textLength="16.7" lengthAdjust="spacingAndGlyphs" fill="#222222">Liver</text>
<text x="472.3" y="205.5" font-size="7.8" text-anchor="middle" textLength="27.9" lengthAdjust="spacingAndGlyphs" fill="#222222">Intestine</text>
<text transform="translate(307.6,259.8) rotate(-90)" font-size="10.0" text-anchor="middle" textLength="21.6" lengthAdjust="spacingAndGlyphs" fill="#222222">Score</text>
<line x1="328.0" y1="223.6" x2="328.0" y2="296.90000000000003" stroke="#141414" stroke-width="1.25"/>
<line x1="327.4" y1="296.3" x2="409.6" y2="296.3" stroke="#141414" stroke-width="1.25"/>
<line x1="325.0" y1="296.3" x2="328.0" y2="296.3" stroke="#141414" stroke-width="1.25"/>
<text x="321.6" y="299.3" font-size="8.3" text-anchor="end" style="stroke-width:0.05px" textLength="4.4" lengthAdjust="spacingAndGlyphs" fill="#222222">0</text>
<line x1="325.0" y1="282.32" x2="328.0" y2="282.32" stroke="#141414" stroke-width="1.25"/>
<text x="321.6" y="285.32" font-size="8.3" text-anchor="end" style="stroke-width:0.05px" textLength="4.4" lengthAdjust="spacingAndGlyphs" fill="#222222">4</text>
<line x1="325.0" y1="268.34" x2="328.0" y2="268.34" stroke="#141414" stroke-width="1.25"/>
<text x="321.6" y="271.34" font-size="8.3" text-anchor="end" style="stroke-width:0.05px" textLength="4.4" lengthAdjust="spacingAndGlyphs" fill="#222222">8</text>
<line x1="325.0" y1="254.36" x2="328.0" y2="254.36" stroke="#141414" stroke-width="1.25"/>
<text x="321.6" y="257.36" font-size="8.3" text-anchor="end" style="stroke-width:0.05px" textLength="8.8" lengthAdjust="spacingAndGlyphs" fill="#222222">12</text>
<line x1="325.0" y1="240.38" x2="328.0" y2="240.38" stroke="#141414" stroke-width="1.25"/>
<text x="321.6" y="243.38" font-size="8.3" text-anchor="end" style="stroke-width:0.05px" textLength="8.8" lengthAdjust="spacingAndGlyphs" fill="#222222">16</text>
<line x1="325.0" y1="226.4" x2="328.0" y2="226.4" stroke="#141414" stroke-width="1.25"/>
<text x="321.6" y="229.4" font-size="8.3" text-anchor="end" style="stroke-width:0.05px" textLength="8.8" lengthAdjust="spacingAndGlyphs" fill="#222222">20</text>
<line x1="341.1" y1="296.3" x2="341.1" y2="298.8" stroke="#141414" stroke-width="1.25"/>
<line x1="368.8" y1="296.3" x2="368.8" y2="298.8" stroke="#141414" stroke-width="1.25"/>
<line x1="396.0" y1="296.3" x2="396.0" y2="298.8" stroke="#141414" stroke-width="1.25"/>
<text x="341.3" y="310.0" font-size="7.8" text-anchor="middle" textLength="13.4" lengthAdjust="spacingAndGlyphs" fill="#222222">Syn</text>
<text x="368.8" y="310.0" font-size="7.8" text-anchor="middle" textLength="24.1" lengthAdjust="spacingAndGlyphs" fill="#222222">Allo wt</text>
<text x="395.9" y="310.0" font-size="7.8" text-anchor="middle" textLength="24.3" lengthAdjust="spacingAndGlyphs" fill="#222222">Allo ko</text>
<rect x="332.1" y="293.4" width="18.1" height="2.9" fill="#9a1538"/>
<line x1="341.5" y1="291.0" x2="341.5" y2="293.6" stroke="#0c0c0c" stroke-width="1.2"/>
<line x1="337.3" y1="291.0" x2="345.7" y2="291.0" stroke="#0c0c0c" stroke-width="1.2"/>
<rect x="360.05" y="226.75" width="17.5" height="69.55" fill="#2b4d8e" stroke="#23406f" stroke-width="0.7"/>
<line x1="368.5" y1="223.6" x2="368.5" y2="226.6" stroke="#0c0c0c" stroke-width="1.2"/>
<line x1="364.5" y1="223.6" x2="372.5" y2="223.6" stroke="#0c0c0c" stroke-width="1.2"/>
<rect x="387.65" y="248.25" width="17.3" height="48.05" fill="#6bb543" stroke="#5a9a3a" stroke-width="0.7"/>
<line x1="396.5" y1="244.8" x2="396.5" y2="248.1" stroke="#0c0c0c" stroke-width="1.2"/>
<line x1="391.5" y1="244.8" x2="401.5" y2="244.8" stroke="#0c0c0c" stroke-width="1.2"/>
<line x1="342.6" y1="219.3" x2="367.2" y2="219.3" stroke="#141414" stroke-width="1.25"/>
<text x="354.8" y="217.6" font-size="7" text-anchor="middle" fill="#222222">*</text>
<line x1="371.9" y1="218.8" x2="395.6" y2="218.8" stroke="#141414" stroke-width="1.25"/>
<text x="383.6" y="217.3" font-size="7" text-anchor="middle" fill="#222222">*</text>
<line x1="431.0" y1="226.3" x2="431.0" y2="298.40000000000003" stroke="#141414" stroke-width="1.25"/>
<line x1="430.4" y1="297.8" x2="513.3" y2="297.8" stroke="#141414" stroke-width="1.25"/>
<line x1="428.0" y1="297.8" x2="431.0" y2="297.8" stroke="#141414" stroke-width="1.25"/>
<text x="425.2" y="300.8" font-size="8.3" text-anchor="end" style="stroke-width:0.05px" textLength="4.4" lengthAdjust="spacingAndGlyphs" fill="#222222">0</text>
<line x1="428.0" y1="283.88" x2="431.0" y2="283.88" stroke="#141414" stroke-width="1.25"/>
<text x="425.2" y="286.88" font-size="8.3" text-anchor="end" style="stroke-width:0.05px" textLength="4.4" lengthAdjust="spacingAndGlyphs" fill="#222222">5</text>
<line x1="428.0" y1="269.96" x2="431.0" y2="269.96" stroke="#141414" stroke-width="1.25"/>
<text x="425.2" y="272.96" font-size="8.3" text-anchor="end" style="stroke-width:0.05px" textLength="8.8" lengthAdjust="spacingAndGlyphs" fill="#222222">10</text>
<line x1="428.0" y1="256.04" x2="431.0" y2="256.04" stroke="#141414" stroke-width="1.25"/>
<text x="425.2" y="259.04" font-size="8.3" text-anchor="end" style="stroke-width:0.05px" textLength="8.8" lengthAdjust="spacingAndGlyphs" fill="#222222">15</text>
<line x1="428.0" y1="242.12" x2="431.0" y2="242.12" stroke="#141414" stroke-width="1.25"/>
<text x="425.2" y="245.12" font-size="8.3" text-anchor="end" style="stroke-width:0.05px" textLength="8.8" lengthAdjust="spacingAndGlyphs" fill="#222222">20</text>
<line x1="428.0" y1="228.2" x2="431.0" y2="228.2" stroke="#141414" stroke-width="1.25"/>
<text x="425.2" y="231.2" font-size="8.3" text-anchor="end" style="stroke-width:0.05px" textLength="8.8" lengthAdjust="spacingAndGlyphs" fill="#222222">25</text>
<line x1="444.8" y1="297.8" x2="444.8" y2="299.8" stroke="#141414" stroke-width="1.25"/>
<line x1="472.5" y1="297.8" x2="472.5" y2="299.8" stroke="#141414" stroke-width="1.25"/>
<line x1="499.6" y1="297.8" x2="499.6" y2="299.8" stroke="#141414" stroke-width="1.25"/>
<text x="445.0" y="311.3" font-size="7.8" text-anchor="middle" textLength="14.3" lengthAdjust="spacingAndGlyphs" fill="#222222">Syn</text>
<text x="472.4" y="311.3" font-size="7.8" text-anchor="middle" textLength="23.2" lengthAdjust="spacingAndGlyphs" fill="#222222">Allo wt</text>
<text x="499.7" y="311.3" font-size="7.8" text-anchor="middle" textLength="23.3" lengthAdjust="spacingAndGlyphs" fill="#222222">Allo ko</text>
<rect x="436.1" y="295.0" width="18.4" height="2.8" fill="#9a1538"/>
<line x1="445.5" y1="292.5" x2="445.5" y2="295.2" stroke="#0c0c0c" stroke-width="1.2"/>
<line x1="441.1" y1="292.5" x2="449.9" y2="292.5" stroke="#0c0c0c" stroke-width="1.2"/>
<rect x="463.85" y="230.35" width="17.6" height="67.45" fill="#2b4d8e" stroke="#23406f" stroke-width="0.7"/>
<line x1="472.5" y1="225.8" x2="472.5" y2="230.2" stroke="#0c0c0c" stroke-width="1.2"/>
<line x1="467.7" y1="225.8" x2="477.3" y2="225.8" stroke="#0c0c0c" stroke-width="1.2"/>
<rect x="490.75" y="248.35" width="17.6" height="49.45" fill="#6bb543" stroke="#5a9a3a" stroke-width="0.7"/>
<line x1="499.5" y1="240.7" x2="499.5" y2="248.2" stroke="#0c0c0c" stroke-width="1.2"/>
<line x1="494.5" y1="240.7" x2="504.5" y2="240.7" stroke="#0c0c0c" stroke-width="1.2"/>
<line x1="444.6" y1="218.0" x2="468.8" y2="218.0" stroke="#141414" stroke-width="1.25"/>
<text x="456.4" y="216.7" font-size="7" text-anchor="middle" fill="#222222">*</text>
<line x1="473.5" y1="218.0" x2="497.8" y2="218.0" stroke="#141414" stroke-width="1.25"/>
<text x="485.6" y="216.6" font-size="7" text-anchor="middle" fill="#222222">*</text>
<text x="416.6" y="325.0" font-size="10.3" text-anchor="middle" textLength="21.7" lengthAdjust="spacingAndGlyphs" fill="#222222">Day 7</text>
<rect x="0.8" y="0.8" width="518.4" height="332.4" fill="none" stroke="#000" stroke-width="1.6"/>
</svg>
</body></html>
